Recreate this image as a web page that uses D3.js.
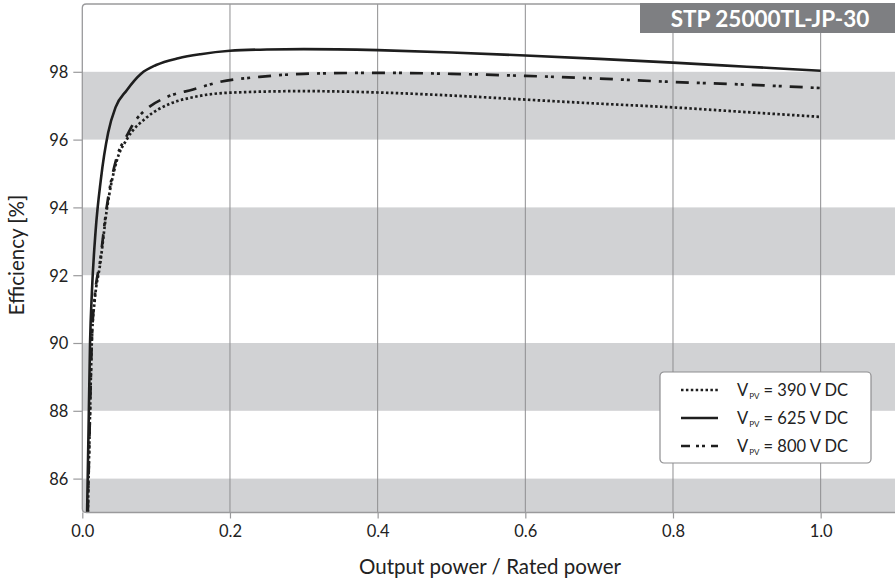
<!DOCTYPE html>
<html>
<head>
<meta charset="utf-8">
<script src="https://cdn.jsdelivr.net/npm/d3@7"></script>
<style>
  html, body { margin: 0; padding: 0; background: #fff; }
  svg { display: block; font-family: "Lato", "Open Sans", sans-serif; }
</style>
</head>
<body>
<svg id="chart" width="895" height="582"></svg>
<script>
// Efficiency curves of the STP 25000TL-JP-30 for three DC input voltages
const title = "STP 25000TL-JP-30";
const xLabel = "Output power / Rated power";
const yLabel = "Efficiency [%]";

const xTicks = [0.0, 0.2, 0.4, 0.6, 0.8, 1.0];
const yTicks = [86, 88, 90, 92, 94, 96, 98];
const bands = [[84, 86], [88, 90], [92, 94], [96, 98]];

// output power / rated power
const power390 = [0.0075, 0.01, 0.013, 0.017, 0.024, 0.033, 0.047, 0.06, 0.087, 0.119, 0.15, 0.196, 0.3, 0.4, 0.5, 0.6, 0.7, 0.8, 0.9, 1.0];
const eff390   = [85.0, 87.5, 90.1, 91.3, 92.3, 93.9, 95.4, 96.0, 96.65, 97.06, 97.25, 97.38, 97.43, 97.39, 97.3, 97.18, 97.06, 96.95, 96.81, 96.67];

const power625 = [0.0065, 0.0085, 0.0105, 0.013, 0.018, 0.025, 0.035, 0.045, 0.06, 0.08, 0.1, 0.13, 0.16, 0.2, 0.25, 0.3, 0.4, 0.5, 0.6, 0.7, 0.8, 0.9, 1.0];
const eff625   = [85.0, 87.5, 90.0, 91.5, 93.3, 94.8, 96.2, 96.95, 97.45, 97.95, 98.2, 98.4, 98.52, 98.62, 98.66, 98.67, 98.64, 98.57, 98.48, 98.38, 98.27, 98.15, 98.03];

const power800 = [0.0075, 0.01, 0.013, 0.017, 0.024, 0.033, 0.047, 0.06, 0.07, 0.087, 0.114, 0.15, 0.186, 0.24, 0.3, 0.4, 0.5, 0.6, 0.7, 0.8, 0.9, 1.0];
const eff800   = [85.0, 87.5, 90.1, 91.4, 92.4, 94.0, 95.5, 96.1, 96.5, 96.9, 97.25, 97.48, 97.7, 97.85, 97.94, 97.97, 97.94, 97.88, 97.8, 97.7, 97.62, 97.52];

const seriesNames = ["390", "625", "800"];
const dashes = { "390": "2.5,2.4", "625": null, "800": "13,8,3,3,3,8" };

const svg = d3.select("#chart");
const pLeft = 82.3, pRight = 894.5, pTop = 4, pBottom = 512.5;

const x = d3.scaleLinear().domain([0, 1.1]).range([pLeft, pRight]);
const y = d3.scaleLinear().domain([85, 100]).range([pBottom, pTop]);

const defs = svg.append("defs");
defs.append("clipPath").attr("id", "plot-clip")
  .append("rect").attr("x", pLeft).attr("y", pTop)
  .attr("width", pRight - pLeft + 1).attr("height", pBottom - pTop);

const plot = svg.append("g").attr("clip-path", "url(#plot-clip)");

// alternating grey bands
plot.selectAll("rect.band").data(bands).join("rect")
  .attr("class", "band")
  .attr("x", pLeft).attr("width", 900 - pLeft)
  .attr("y", d => y(d[1]))
  .attr("height", d => y(d[0]) - y(d[1]))
  .attr("fill", "#d1d2d4");

// vertical grid lines
plot.selectAll("line.vgrid").data(xTicks.slice(1)).join("line")
  .attr("class", "vgrid")
  .attr("x1", d => x(d)).attr("x2", d => x(d))
  .attr("y1", pTop).attr("y2", pBottom)
  .attr("stroke", "#8e8e90").attr("stroke-width", 1);

// frame: top and left edge, rounded top-left corner, plus bottom edge
const r = 4;
svg.append("path")
  .attr("d", `M${pRight + 2},${pTop} L${pLeft + r},${pTop} Q${pLeft},${pTop} ${pLeft},${pTop + r} L${pLeft},${pBottom - r} Q${pLeft},${pBottom} ${pLeft + r},${pBottom} L${pRight + 2},${pBottom}`)
  .attr("fill", "none").attr("stroke", "#9a9a9c").attr("stroke-width", 1.3);

// title box
const titleBox = svg.append("g");
titleBox.append("rect")
  .attr("x", 640).attr("y", pTop - 1).attr("width", 260).attr("height", 30)
  .attr("fill", "#7e7f82");
titleBox.append("text")
  .attr("x", 770).attr("y", 26.5)
  .attr("text-anchor", "middle")
  .attr("fill", "#fff").attr("font-weight", "bold")
  .attr("font-size", 22.5)
  .text(title);

// axes
const xAxis = d3.axisBottom(x).tickValues(xTicks).tickFormat(d3.format(".1f"))
  .tickSize(6).tickPadding(7);
const gx = svg.append("g").attr("transform", `translate(0,${pBottom})`).call(xAxis);
gx.select(".domain").remove();

const yAxis = d3.axisLeft(y).tickValues(yTicks).tickFormat(d3.format("d"))
  .tickSize(9).tickPadding(5);
const gy = svg.append("g").attr("transform", `translate(${pLeft},0)`).call(yAxis);
gy.select(".domain").remove();

[gx, gy].forEach(g => {
  g.selectAll(".tick line").attr("stroke", "#9a9a9c").attr("stroke-width", 1.2);
  g.selectAll(".tick text").attr("fill", "#222").attr("font-size", 16.5)
    .attr("font-family", "Lato, sans-serif");
});
gy.selectAll(".tick text").attr("dy", "0.36em");

// axis titles
svg.append("text")
  .attr("x", 490).attr("y", 574)
  .attr("text-anchor", "middle")
  .attr("font-size", 20.5).attr("fill", "#222")
  .text(xLabel);

svg.append("text")
  .attr("transform", "translate(24,255) rotate(-90)")
  .attr("text-anchor", "middle")
  .attr("font-size", 20.5).attr("fill", "#222")
  .text(yLabel);

// efficiency curves
const seriesData = {
  "390": power390.map((p, i) => [p, eff390[i]]),
  "625": power625.map((p, i) => [p, eff625[i]]),
  "800": power800.map((p, i) => [p, eff800[i]])
};

const line = d3.line()
  .x(d => x(d[0])).y(d => y(d[1]))
  .curve(d3.curveMonotoneX);

["390", "800", "625"].forEach(k => {
  plot.append("path")
    .datum(seriesData[k])
    .attr("d", line)
    .attr("fill", "none")
    .attr("stroke", "#1e1e1e")
    .attr("stroke-width", k === "625" ? 2.6 : 2.7)
    .attr("stroke-dasharray", dashes[k]);
});

// legend
const lg = svg.append("g").attr("transform", "translate(660,372)");
lg.append("rect")
  .attr("x", 0).attr("y", 0).attr("width", 211).attr("height", 91)
  .attr("rx", 4).attr("ry", 4)
  .attr("fill", "#fff").attr("stroke", "#8e8e90").attr("stroke-width", 1.2);

const legendDash = { "390": "2.5,2.4", "625": null, "800": "9,6,3,3,3,6,9" };
seriesNames.forEach((k, i) => {
  const ly = 18 + i * 28;
  lg.append("line")
    .attr("x1", 21).attr("x2", 58).attr("y1", ly).attr("y2", ly)
    .attr("stroke", "#1e1e1e").attr("stroke-width", 2.7)
    .attr("stroke-dasharray", legendDash[k]);
  const t = lg.append("text")
    .attr("x", 77).attr("y", ly + 6)
    .attr("font-size", 16.5).attr("fill", "#222");
  t.append("tspan").text("V");
  t.append("tspan").attr("font-size", 8).attr("dy", 3).attr("dx", 1).text("PV");
  t.append("tspan").attr("dy", -3).text(` = ${k} V DC`);
});
</script>
</body>
</html>
